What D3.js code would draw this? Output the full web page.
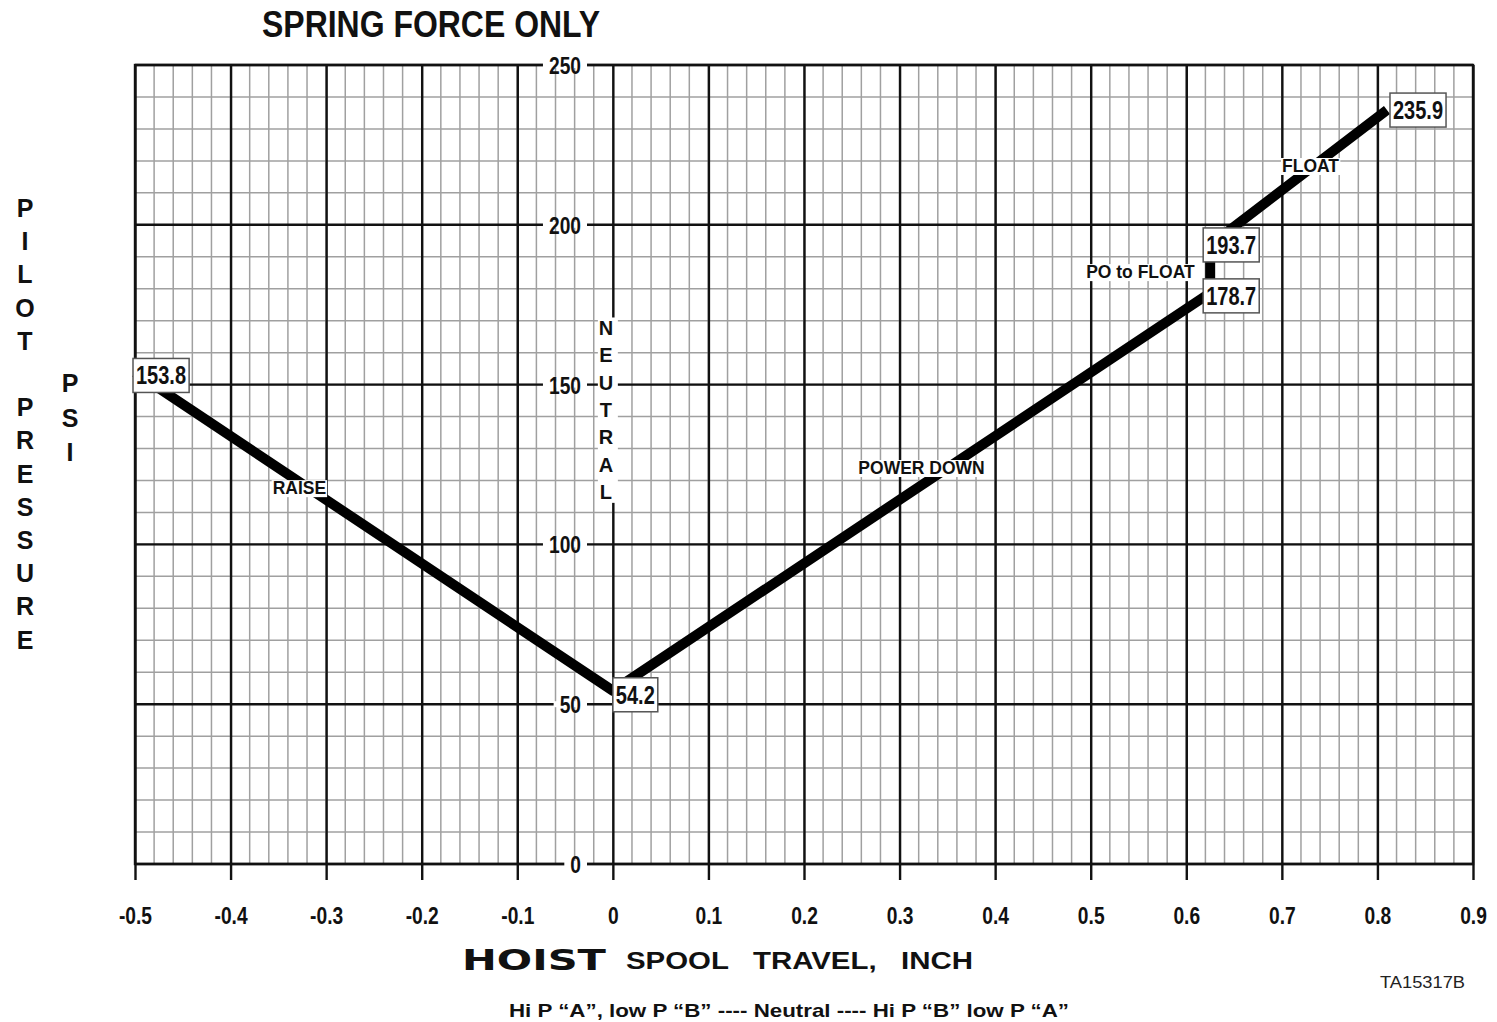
<!DOCTYPE html>
<html>
<head>
<meta charset="utf-8">
<script src="https://cdn.jsdelivr.net/npm/d3@7"></script>
<style>
  body { margin: 0; background: #fff; }
  svg { display: block; }
  .narrow { font-family: "Liberation Sans Narrow", "Arial Narrow", "Liberation Sans", sans-serif; font-weight: bold; }
  .sans { font-family: "Liberation Sans", Arial, sans-serif; font-weight: bold; }
</style>
</head>
<body>
<svg id="chart"></svg>
<script>
// curve points: spool travel (inch) vs pilot pressure (psi)
const travel = [-0.5, 0, 0.625, 0.625, 0.81];
const pilotPsi = [153.8, 54.2, 178.7, 193.7, 235.9];

const xTicks = [-0.5, -0.4, -0.3, -0.2, -0.1, 0, 0.1, 0.2, 0.3, 0.4, 0.5, 0.6, 0.7, 0.8, 0.9];
const xTickLabels = ['-0.5', '-0.4', '-0.3', '-0.2', '-0.1', '0', '0.1', '0.2', '0.3', '0.4', '0.5', '0.6', '0.7', '0.8', '0.9'];
const psiTicks = [0, 50, 100, 150, 200, 250];

// operating mode captions, anchored on the curve
const modeNames = ['RAISE', 'POWER DOWN', 'PO to FLOAT', 'FLOAT'];
const modeTravel = [-0.328, 0.323, 0.552, 0.730];
const modePsi = [117.6, 123.9, 185.2, 218.4];

const width = 1497;
const height = 1022;
const margin = { top: 65, right: 24, bottom: 158, left: 135 };

const svg = d3.select('#chart')
  .attr('width', width)
  .attr('height', height);

const x = d3.scaleLinear()
  .domain([-0.5, 0.9])
  .range([margin.left, width - margin.right]);

const y = d3.scaleLinear()
  .domain([0, 250])
  .range([height - margin.bottom, margin.top]);

const plotBottom = y(0);
const plotTop = y(250);

// squeeze numbers sideways, no narrow face is installed
function condense(sel, k) {
  sel.each(function () {
    const w = this.getComputedTextLength();
    d3.select(this)
      .attr('textLength', w * k)
      .attr('lengthAdjust', 'spacingAndGlyphs');
  });
}

// minor grid
const minorX = d3.range(-0.5, 0.9001, 0.02).map(d => +d.toFixed(2));
const minorY = d3.range(0, 250.01, 10);

const grid = svg.append('g').attr('class', 'grid');

grid.selectAll('.vminor')
  .data(minorX)
  .enter().append('line')
  .attr('x1', d => x(d)).attr('x2', d => x(d))
  .attr('y1', plotTop).attr('y2', plotBottom)
  .attr('stroke', '#a0a0a0')
  .attr('stroke-width', 1.5);

grid.selectAll('.hminor')
  .data(minorY)
  .enter().append('line')
  .attr('x1', x(-0.5)).attr('x2', x(0.9))
  .attr('y1', d => y(d)).attr('y2', d => y(d))
  .attr('stroke', '#a0a0a0')
  .attr('stroke-width', 1.5);

// major grid + x axis ticks
const xAxis = d3.axisBottom(x)
  .tickValues(xTicks)
  .tickFormat((d, i) => xTickLabels[i])
  .tickSizeInner(-(plotBottom - plotTop))
  .tickSizeOuter(0)
  .tickPadding(43);

const gx = svg.append('g')
  .attr('transform', `translate(0,${plotBottom})`)
  .call(xAxis);
gx.select('.domain').remove();
gx.selectAll('.tick line')
  .attr('y1', 16)
  .attr('stroke', '#111')
  .attr('stroke-width', 2.4);
gx.selectAll('.tick text')
  .attr('class', 'narrow')
  .attr('font-size', 24)
  .attr('fill', '#111')
  .call(condense, 0.8);

grid.selectAll('.hmajor')
  .data(psiTicks)
  .enter().append('line')
  .attr('x1', x(-0.5)).attr('x2', x(0.9))
  .attr('y1', d => y(d)).attr('y2', d => y(d))
  .attr('stroke', '#111')
  .attr('stroke-width', 2.4);

// plot frame
svg.append('rect')
  .attr('x', x(-0.5)).attr('y', plotTop)
  .attr('width', x(0.9) - x(-0.5)).attr('height', plotBottom - plotTop)
  .attr('fill', 'none')
  .attr('stroke', '#111')
  .attr('stroke-width', 2.4);

// white gap behind the NEUTRAL caption on the zero line
svg.append('rect')
  .attr('x', x(0) - 15).attr('y', y(171))
  .attr('width', 20).attr('height', y(113) - y(171))
  .attr('fill', '#fff');

const neutral = 'NEUTRAL'.split('');
svg.append('g').selectAll('text')
  .data(neutral)
  .enter().append('text')
  .attr('class', 'sans')
  .attr('font-size', 20)
  .attr('text-anchor', 'middle')
  .attr('x', x(0) - 7)
  .attr('y', (d, i) => 335 + i * 27.3)
  .attr('fill', '#111')
  .text(d => d);

// psi labels sit on the grid with a white patch behind them
const yLab = svg.append('g');
psiTicks.forEach(v => {
  const t = yLab.append('text')
    .attr('class', 'narrow')
    .attr('font-size', 24)
    .attr('text-anchor', 'end')
    .attr('x', 581)
    .attr('y', y(v) + 9)
    .attr('fill', '#111')
    .text(v)
    .call(condense, 0.8);
  const b = t.node().getBBox();
  yLab.insert('rect', 'text')
    .attr('x', b.x - 6).attr('y', y(v) - 3)
    .attr('width', b.width + 12).attr('height', 6)
    .attr('fill', '#fff');
});

// curve
const line = d3.line()
  .x(d => x(d[0]))
  .y(d => y(d[1]));

svg.append('path')
  .datum(d3.zip(travel, pilotPsi))
  .attr('d', line)
  .attr('fill', 'none')
  .attr('stroke', '#000')
  .attr('stroke-width', 10)
  .attr('stroke-linejoin', 'round');

// mode captions
modeNames.forEach((name, i) => {
  const g = svg.append('g');
  const t = g.append('text')
    .attr('class', 'sans')
    .attr('font-size', 17.5)
    .attr('text-anchor', 'middle')
    .attr('x', x(modeTravel[i]))
    .attr('y', y(modePsi[i]) + 6)
    .attr('fill', '#111')
    .text(name);
  const b = t.node().getBBox();
  g.insert('rect', 'text')
    .attr('x', b.x - 1).attr('y', b.y + 2)
    .attr('width', b.width + 2).attr('height', b.height - 3)
    .attr('fill', '#fff');
});

// value boxes at the curve points
const boxShift = [-2, 0, -7, -7, 3];
const boxDrop = [3, 4, 3, 0, 0];
const fmt = d3.format('.1f');
pilotPsi.forEach((v, i) => {
  const g = svg.append('g');
  const t = g.append('text')
    .attr('class', 'narrow')
    .attr('font-size', 25)
    .attr('x', x(travel[i]) + boxShift[i] + 3)
    .attr('y', y(v) + boxDrop[i] + 9)
    .attr('fill', '#111')
    .text(fmt(v))
    .call(condense, 0.8);
  const b = t.node().getBBox();
  g.insert('rect', 'text')
    .attr('x', x(travel[i]) + boxShift[i])
    .attr('y', y(v) + boxDrop[i] - 17)
    .attr('width', b.width + 6)
    .attr('height', 34)
    .attr('fill', '#fff')
    .attr('stroke', '#555')
    .attr('stroke-width', 1.5);
});

// titles
svg.append('text')
  .attr('class', 'narrow')
  .attr('font-size', 36)
  .attr('x', 262).attr('y', 37)
  .attr('textLength', 338)
  .attr('lengthAdjust', 'spacingAndGlyphs')
  .attr('fill', '#111')
  .text('SPRING FORCE ONLY');

const leftTitle = 'PILOT PRESSURE'.split('');
svg.append('g').selectAll('text')
  .data(leftTitle)
  .enter().append('text')
  .attr('class', 'sans')
  .attr('font-size', 25)
  .attr('text-anchor', 'middle')
  .attr('x', 25)
  .attr('y', (d, i) => 217 + i * 33.2)
  .attr('fill', '#111')
  .text(d => d);

svg.append('g').selectAll('text')
  .data('PSI'.split(''))
  .enter().append('text')
  .attr('class', 'sans')
  .attr('font-size', 25)
  .attr('text-anchor', 'middle')
  .attr('x', 70)
  .attr('y', (d, i) => 392 + i * 34.5)
  .attr('fill', '#111')
  .text(d => d);

svg.append('text')
  .attr('font-family', '"DejaVu Sans", sans-serif')
  .attr('font-weight', 'bold')
  .attr('font-size', 29)
  .attr('x', 462).attr('y', 970)
  .attr('textLength', 144)
  .attr('lengthAdjust', 'spacingAndGlyphs')
  .attr('fill', '#111')
  .text('HOIST');

svg.append('text')
  .attr('class', 'sans')
  .attr('font-size', 24)
  .attr('x', 626).attr('y', 969)
  .attr('textLength', 347)
  .attr('lengthAdjust', 'spacingAndGlyphs')
  .attr('fill', '#111')
  .style('white-space', 'pre')
  .text('SPOOL   TRAVEL,   INCH');

svg.append('text')
  .attr('font-family', '"Liberation Sans Narrow", "Liberation Sans", sans-serif')
  .attr('font-size', 17)
  .attr('x', 1380).attr('y', 988)
  .attr('textLength', 85)
  .attr('lengthAdjust', 'spacingAndGlyphs')
  .attr('fill', '#222')
  .text('TA15317B');

svg.append('text')
  .attr('class', 'sans')
  .attr('font-size', 19)
  .attr('x', 509).attr('y', 1017)
  .attr('textLength', 560)
  .attr('lengthAdjust', 'spacingAndGlyphs')
  .attr('fill', '#111')
  .text('Hi P \u201CA\u201D, low P \u201CB\u201D ---- Neutral ---- Hi P \u201CB\u201D low P \u201CA\u201D');
</script>
</body>
</html>
